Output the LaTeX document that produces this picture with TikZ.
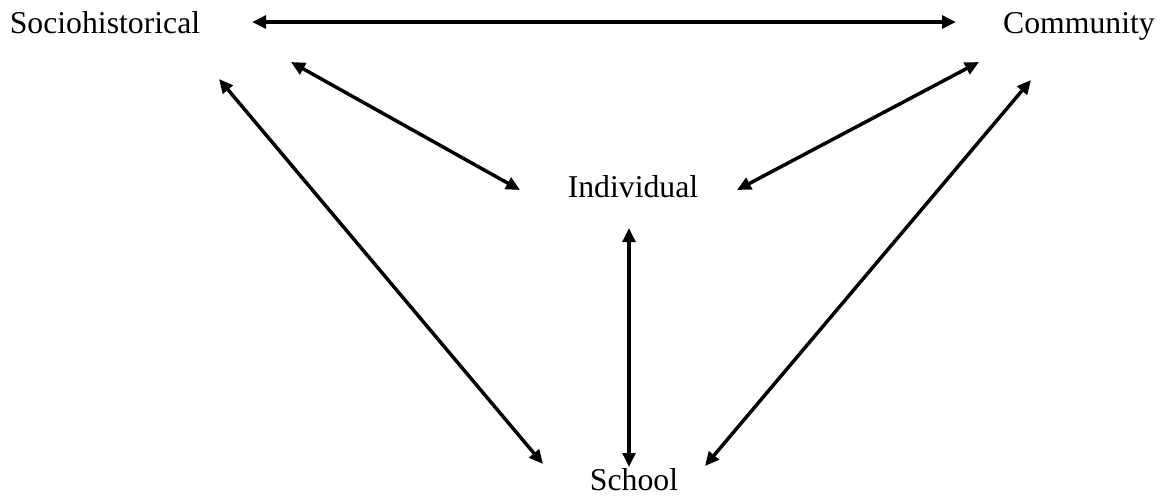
\documentclass[tikz,border=0pt]{standalone}
\usepackage{fontspec}
\setmainfont{Liberation Serif}
\usetikzlibrary{arrows.meta}
\begin{document}
\begin{tikzpicture}[x=0.75pt,y=-0.75pt,
  lbl/.style={anchor=base,inner sep=0pt,font=\fontsize{23.8pt}{28pt}\selectfont},
  link/.style={line width=2.6pt,{Triangle[length=10.5pt,width=9.5pt]}-{Triangle[length=10.5pt,width=9.5pt]}}]
\useasboundingbox (0,0) rectangle (1168,497);
\node[lbl] (soc) at (105,33) {Sociohistorical};
\node[lbl] (com) at (1079,33) {Community};
\node[lbl] (ind) at (633,197) {Individual};
\node[lbl] (sch) at (634,490) {School};
\coordinate (s1) at (252,22);
\coordinate (c1) at (956,22);
\coordinate (s2) at (291,62);
\coordinate (i1) at (520,190);
\coordinate (s3) at (219,79);
\coordinate (h1) at (543,464);
\coordinate (c2) at (979,62);
\coordinate (i2) at (737,190);
\coordinate (c3) at (1031,80);
\coordinate (h2) at (705,466);
\coordinate (i3) at (629,228);
\coordinate (h3) at (629,467);
\draw[link] (s1) -- (c1);
\draw[link] (s2) -- (i1);
\draw[link] (s3) -- (h1);
\draw[link] (c2) -- (i2);
\draw[link] (c3) -- (h2);
\draw[link] (i3) -- (h3);
\end{tikzpicture}
\end{document}
